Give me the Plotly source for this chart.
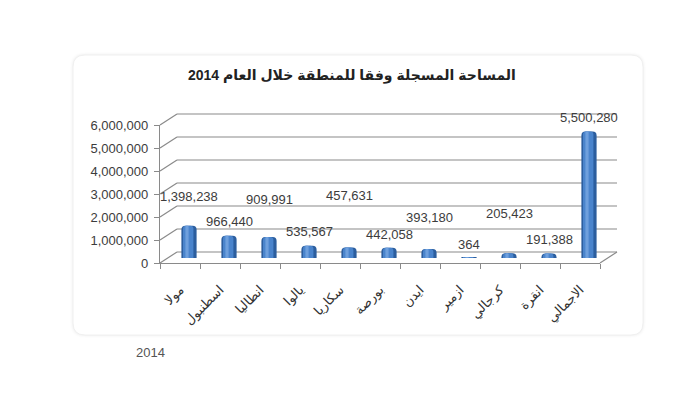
import plotly.graph_objects as go

# ---------------- data ----------------
regions = ["مولا", "اسطنبول", "انطاليا", "يالوا", "سكاريا", "بورصة",
           "ايدن", "ازمير", "كرجالي", "انقرة", "الاجمالي"]
areas = [1398238, 966440, 909991, 535567, 457631, 442058,
         393180, 364, 205423, 191388, 5500280]
y_ticks = [0, 1000000, 2000000, 3000000, 4000000, 5000000, 6000000]
title_text = "المساحة المسجلة وفقا للمنطقة خلال العام 2014"

# ---------------- geometry (screen pixels; page body has an 8px margin) ----------------
OFF = 8
W, H = 700 - OFF, 393 - OFF
FX0, FX1, FY0, FY1 = 160, 600, 263, 125   # front axis box (screen px)
DX, DY = 17, 11                             # depth offset of back wall
BX, BY = 9, 5                               # bar offset (mid depth)
L = FX0 - OFF
T = FY1 - DY - OFF
PW = (FX1 + DX) - FX0
PH = FY0 - (FY1 - DY)
R = W - L - PW
B = H - T - PH
YMAX = 6000000


def px(x, y):
    """screen pixel -> paper coords"""
    return (x - FX0) / PW, (FY0 - y) / PH


def vy(v):
    """value -> screen y on the front plane"""
    return FY0 - v / YMAX * (FY0 - FY1)


grid_col = "#8a8a8a"
text_col = "#3c3c3c"
font_fam = "Liberation Sans, Arial, DejaVu Sans, sans-serif"

fig = go.Figure()

# invisible trace so the front axes render
fig.add_trace(go.Scatter(x=[regions[0]], y=[0], mode="markers",
                         marker=dict(opacity=0), hoverinfo="skip"))

# bars: layered to imitate cylinders
fig.add_trace(go.Bar(x=regions, y=areas, xaxis="x3", yaxis="y3",
                     width=0.38, marker=dict(color="#2C5E9E", cornerradius=4,
                                              line=dict(width=0)),
                     hoverinfo="x+y"))
fig.add_trace(go.Bar(x=regions, y=areas, xaxis="x3", yaxis="y3",
                     width=0.26, offset=-0.15,
                     marker=dict(color="#4A84CC", cornerradius=3, line=dict(width=0)),
                     hoverinfo="skip"))
fig.add_trace(go.Bar(x=regions, y=areas, xaxis="x3", yaxis="y3",
                     width=0.08, offset=-0.09,
                     marker=dict(color="#6FA0DD", cornerradius=2, line=dict(width=0)),
                     hoverinfo="skip"))

# ---------------- shapes ----------------
shapes = []


def rrect(x0, y0, x1, y1, r):
    X0, Y0 = px(x0, y0)
    X1, Y1 = px(x1, y1)
    rx = r / PW
    ry = r / PH
    return (f"M {X0+rx},{Y0} L {X1-rx},{Y0} Q {X1},{Y0} {X1},{Y0-ry} "
            f"L {X1},{Y1+ry} Q {X1},{Y1} {X1-rx},{Y1} L {X0+rx},{Y1} "
            f"Q {X0},{Y1} {X0},{Y1+ry} L {X0},{Y0-ry} Q {X0},{Y0} {X0+rx},{Y0} Z")


for i, a in enumerate([0.008, 0.012, 0.018]):
    g = 3 - i
    shapes.append(dict(type="path", xref="paper", yref="paper", layer="below",
                       path=rrect(73 - g, 55 - g, 643 + g, 335 + g, 12 + g),
                       fillcolor=f"rgba(0,0,0,{a})", line=dict(width=0)))
shapes.append(dict(type="path", xref="paper", yref="paper", layer="below",
                   path=rrect(73, 55, 643, 335, 12),
                   fillcolor="white", line=dict(color="#f0f0f0", width=1)))


def seg(xa, ya, xb, yb, w=1.2):
    p0 = px(xa, ya)
    p1 = px(xb, yb)
    shapes.append(dict(type="line", xref="paper", yref="paper", layer="below",
                       x0=p0[0], y0=p0[1], x1=p1[0], y1=p1[1],
                       line=dict(color=grid_col, width=w)))


for v in y_ticks:
    fy = vy(v)
    seg(FX0, fy, FX0 + DX, fy - DY)              # depth diagonal
    seg(FX0 + DX, fy - DY, FX1 + DX, fy - DY)    # back-wall grid line
seg(FX1, FY0, FX1 + DX, FY0 - DY)                # floor right edge

# ---------------- annotations ----------------
tx, ty = px(352, 75)
annotations = [dict(text=f"<b>{title_text}</b>", xref="paper", yref="paper",
                    x=tx, y=ty, showarrow=False,
                    font=dict(size=14, color="#222222", family=font_fam),
                    xanchor="center", yanchor="middle")]

label_lift = [29, 14, 38, 14, 52, 13, 31, 13, 40, 14, 14]
for r_, v, s in zip(regions, areas, label_lift):
    annotations.append(dict(text=f"{v:,}", x=r_, y=v, xref="x3", yref="y3",
                            showarrow=False, yshift=s, yanchor="middle",
                            font=dict(size=13, color=text_col, family=font_fam)))

fx, fy_ = px(150, 352)
annotations.append(dict(text="2014", xref="paper", yref="paper",
                        x=fx, y=fy_, showarrow=False,
                        font=dict(size=13, color="#555555", family=font_fam),
                        xanchor="center", yanchor="middle"))

common_y = dict(range=[0, YMAX], fixedrange=True)
front_w = (FX1 - FX0) / PW
front_h = (FY0 - FY1) / PH
fig.update_layout(
    width=W, height=H, autosize=False,
    margin=dict(l=L, r=R, t=T, b=B, pad=0),
    paper_bgcolor="white", plot_bgcolor="rgba(0,0,0,0)",
    barmode="overlay", showlegend=False,
    font=dict(family=font_fam, color=text_col),
    xaxis=dict(domain=[0, front_w], type="category", range=[-0.5, 10.5],
               categoryorder="array", categoryarray=regions,
               showline=True, linecolor=grid_col, linewidth=1.2,
               ticks="outside", tickson="boundaries", ticklen=5, tickcolor=grid_col,
               tickangle=-45, ticklabelstandoff=13, showgrid=False, zeroline=False,
               tickfont=dict(size=13, color="#333333", family="DejaVu Sans, sans-serif")),
    yaxis=dict(domain=[0, front_h], **common_y, tickvals=y_ticks, tickformat=",d",
               showline=True, linecolor=grid_col, linewidth=1.2,
               ticks="outside", ticklen=5, tickcolor=grid_col, ticklabelstandoff=3,
               showgrid=False, zeroline=False,
               tickfont=dict(size=13, color=text_col, family=font_fam)),
    xaxis3=dict(domain=[BX / PW, (FX1 - FX0 + BX) / PW], anchor="y3", type="category",
                range=[-0.5, 10.5], categoryarray=regions, categoryorder="array",
                showticklabels=False, showgrid=False, zeroline=False, showline=False),
    yaxis3=dict(domain=[BY / PH, (FY0 - FY1 + BY) / PH], anchor="x3", **common_y,
                showticklabels=False, showgrid=False, zeroline=False, showline=False),
    shapes=shapes, annotations=annotations,
)

fig.write_html("out.html")
